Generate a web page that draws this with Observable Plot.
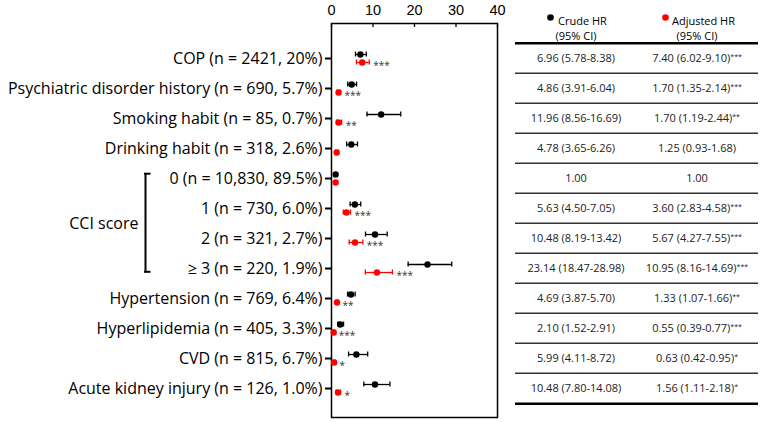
<!DOCTYPE html>
<html><head><meta charset="utf-8">
<script src="https://cdn.jsdelivr.net/npm/d3@7"></script>
<script src="https://cdn.jsdelivr.net/npm/@observablehq/plot@0.6"></script>
<style>
body{margin:0;background:#fff;}
#wrap{display:flex;width:764px;height:422px;}
svg{display:block}
</style></head><body><div id="wrap"></div>
<script>
const labels = [
  "COP (n = 2421, 20%)",
  "Psychiatric disorder history (n = 690, 5.7%)",
  "Smoking habit (n = 85, 0.7%)",
  "Drinking habit (n = 318, 2.6%)",
  "0 (n = 10,830, 89.5%)",
  "1 (n = 730, 6.0%)",
  "2 (n = 321, 2.7%)",
  "≥ 3 (n = 220, 1.9%)",
  "Hypertension (n = 769, 6.4%)",
  "Hyperlipidemia (n = 405, 3.3%)",
  "CVD (n = 815, 6.7%)",
  "Acute kidney injury (n = 126, 1.0%)"
];
const crudeHR = [6.96, 4.86, 11.96, 4.78, 1.00, 5.63, 10.48, 23.14, 4.69, 2.10, 5.99, 10.48];
const crudeLo = [5.78, 3.91, 8.56, 3.65, null, 4.50, 8.19, 18.47, 3.87, 1.52, 4.11, 7.80];
const crudeHi = [8.38, 6.04, 16.69, 6.26, null, 7.05, 13.42, 28.98, 5.70, 2.91, 8.72, 14.08];
const adjHR = [7.40, 1.70, 1.70, 1.25, 1.00, 3.60, 5.67, 10.95, 1.33, 0.55, 0.63, 1.56];
const adjLo = [6.02, 1.35, 1.19, 0.93, null, 2.83, 4.27, 8.16, 1.07, 0.39, 0.42, 1.11];
const adjHi = [9.10, 2.14, 2.44, 1.68, null, 4.58, 7.55, 14.69, 1.66, 0.77, 0.95, 2.18];
const adjSig = ["***", "***", "**", "", "", "***", "***", "***", "**", "***", "*", "*"];
const xTicks = [0, 10, 20, 30, 40];
const columns = ["Crude", "Adjusted"];
const headerLine1 = ["Crude HR", "Adjusted HR"];
const headerLine2 = ["(95% CI)", "(95% CI)"];
const cciTitle = "CCI score";
const cciFirst = labels[4], cciLast = labels[7], cciMid = labels[5];

const RED = "#ff0000", BLACK = "#000000";
const font = "'Open Sans', sans-serif";

const crude = labels.map((label, i) => ({label, hr: crudeHR[i], lo: crudeLo[i], hi: crudeHi[i]}));
const adjusted = labels.map((label, i) => ({label, hr: adjHR[i], lo: adjLo[i], hi: adjHi[i], sig: adjSig[i]}));

const yBand = {type: "band", domain: labels, range: [38.7, 406.3], padding: 0, label: null};

function ciMarks(rows, color, dy) {
  return [
    Plot.ruleY(rows, {y: "label", x1: "lo", x2: "hi", stroke: color, strokeWidth: 1.3, dy}),
    Plot.tickX(rows, {x: "lo", y: "label", stroke: color, strokeWidth: 1.3, insetTop: 12.5, insetBottom: 12.5, dy}),
    Plot.tickX(rows, {x: "hi", y: "label", stroke: color, strokeWidth: 1.3, insetTop: 12.5, insetBottom: 12.5, dy}),
    Plot.dot(rows, {x: "hr", y: "label", r: 3.2, fill: color, stroke: "none", dy})
  ];
}

const forest = Plot.plot({
  width: 510, height: 422,
  marginLeft: 331, marginRight: 13, marginTop: 23, marginBottom: 5,
  style: {fontFamily: font, color: "black", background: "white", overflow: "visible"},
  x: {domain: [0, 40], label: null},
  y: yBand,
  marks: [
    Plot.frame({stroke: "black", strokeWidth: 1.5}),
    Plot.axisX(xTicks, {anchor: "top", tickSize: -3, tickPadding: 12, fontSize: 14.5, fontFamily: "'Liberation Sans', Arial, sans-serif", strokeWidth: 1.3, label: null}),
    Plot.axisY({anchor: "left", tickSize: 6, tickPadding: 3, fontSize: 16, strokeWidth: 2, label: null}),
    ...ciMarks(crude, BLACK, -4),
    ...ciMarks(adjusted, RED, 4),
    Plot.text(adjusted, {x: "hi", y: "label", text: "sig", dx: 4, dy: 7.5, textAnchor: "start", fontSize: 10, fill: "#333"}),
    // CCI score bracket
    Plot.ruleX([0], {x: d => d, y1: () => cciFirst, y2: () => cciLast, dx: -186, insetTop: 10.5, insetBottom: 11.5, strokeWidth: 2, stroke: "black"}),
    Plot.ruleY([cciFirst], {y: d => d, x1: () => 0, x2: () => 0, dx: -186, dy: -4.8, insetLeft: -1, insetRight: -5.5, strokeWidth: 2, stroke: "black"}),
    Plot.ruleY([cciLast], {y: d => d, x1: () => 0, x2: () => 0, dx: -186, dy: 3.3, insetLeft: -1, insetRight: -5.5, strokeWidth: 2, stroke: "black"}),
    Plot.text([cciTitle], {x: () => 0, y: () => cciMid, text: d => d, dx: -193, dy: 15, textAnchor: "end", fontSize: 16, fill: "black"})
  ]
});

const fmt = (v, lo, hi) => v.toFixed(2) + (lo != null ? ` (${lo.toFixed(2)}-${hi.toFixed(2)})` : "");
const tableRows = [];
labels.forEach((label, i) => {
  tableRows.push({label, col: "Crude", text: fmt(crudeHR[i], crudeLo[i], crudeHi[i])});
  tableRows.push({label, col: "Adjusted", text: fmt(adjHR[i], adjLo[i], adjHi[i]) + (adjSig[i] ? "|" + adjSig[i] : "")});
});
const header = columns.map((c, i) => ({col: c, l1: headerLine1[i], l2: headerLine2[i]}));

const table = Plot.plot({
  width: 254, height: 422,
  marginLeft: 0, marginRight: 0, marginTop: 0, marginBottom: 0,
  style: {fontFamily: font, color: "black", background: "white", overflow: "visible"},
  x: {type: "band", domain: columns, range: [5, 247], padding: 0, axis: null},
  y: {...yBand, axis: null},
  marks: [
    Plot.text(header, {x: "col", frameAnchor: "top", dy: 17, dx: 6.5, text: "l1", fontSize: 11, fill: "black"}),
    Plot.text(header, {x: "col", frameAnchor: "top", dy: 32, text: "l2", fontSize: 11, fill: "black"}),
    Plot.dot([header[0]], {x: "col", frameAnchor: "top", dy: 17, dx: -25.5, r: 3.3, fill: BLACK, stroke: "none"}),
    Plot.dot([header[1]], {x: "col", frameAnchor: "top", dy: 17, dx: -31.5, r: 3.3, fill: RED, stroke: "none"}),
    Plot.ruleY([labels[0]], {y: d => d, dy: -15.3, strokeWidth: 2.5, stroke: "black", insetLeft: 5, insetRight: 6}),
    Plot.ruleY(labels.slice(1), {y: d => d, dy: -15.3, strokeWidth: 1.4, stroke: "#333", insetLeft: 5, insetRight: 6}),
    Plot.ruleY([labels[labels.length - 1]], {y: d => d, dy: 15.3, strokeWidth: 2.5, stroke: "black", insetLeft: 5, insetRight: 6}),
    Plot.text(tableRows, {x: "col", y: "label", text: "text", fontSize: 11, fill: "#222"})
  ]
});

d3.select(table).selectAll("text").each(function() {
  const t = this.textContent;
  if (t.includes("|")) {
    const [main, stars] = t.split("|");
    this.textContent = main;
    d3.select(this).append("tspan").attr("dy", "-0.4em").attr("font-size", "7px").text(stars);
  }
});

document.getElementById("wrap").append(forest, table);
</script>
</body></html>
